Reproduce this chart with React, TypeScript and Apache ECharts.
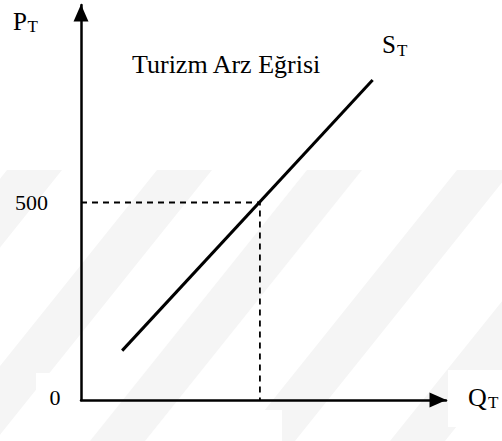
import React, { useEffect, useRef } from "react";
import * as echarts from "echarts";

// Data
const supplyQ = [2.3, 16.3];
const supplyP = [125, 810];
const equilibriumQ = 10;
const equilibriumP = 500;
const xTickValues = [10];
const yTickValues = [500];
const xMax = 20.4;
const yMax = 1000;

const FONT = "'Liberation Serif', 'Times New Roman', serif";

function txt(text: string, x: number, y: number, size: number, align = "left") {
  return {
    type: "text",
    x,
    y,
    z: 20,
    style: { text, font: `${size}px ${FONT}`, fill: "#000", align, verticalAlign: "middle" },
  };
}

function band(xb: number) {
  const w = 55;
  const shift = 217;
  return {
    type: "polygon",
    z: 0,
    silent: true,
    shape: { points: [[xb, 441], [xb + w, 441], [xb + w + shift, 170], [xb + shift, 170]] },
    style: { fill: "#f5f5f5" },
  };
}

export default function App() {
  const ref = useRef<HTMLDivElement>(null);
  useEffect(() => {
    document.body.style.margin = "0";
    const chart = echarts.init(ref.current!, null, { renderer: "svg" });
    const axisLine = () => ({
      show: true,
      onZero: false,
      symbol: ["none", "triangle"],
      symbolSize: [15, 17],
      symbolOffset: [0, -8],
      lineStyle: { color: "#000", width: 2.5 },
    });
    chart.setOption({
      animation: false,
      backgroundColor: "#fff",
      grid: { left: 81, right: 502 - 446, top: 5, bottom: 41, containLabel: false },
      xAxis: {
        type: "value",
        min: 0,
        max: xMax,
        axisLine: axisLine(),
        axisTick: { show: false },
        splitLine: { show: false },
        axisLabel: {
          customValues: xTickValues,
          margin: 16,
          fontSize: 22,
          fontFamily: FONT,
          color: "#000",
        },
      },
      yAxis: {
        type: "value",
        min: 0,
        max: yMax,
        axisLine: axisLine(),
        axisTick: { show: false },
        splitLine: { show: false },
        axisLabel: {
          customValues: yTickValues,
          margin: 33,
          fontSize: 22,
          fontFamily: FONT,
          color: "#000",
        },
      },
      series: [
        {
          type: "line",
          data: supplyQ.map((q, i) => [q, supplyP[i]]),
          symbol: "none",
          lineStyle: { color: "#000", width: 3 },
          z: 5,
        },
        {
          type: "line",
          data: [
            [0, equilibriumP],
            [equilibriumQ, equilibriumP],
            [equilibriumQ, 0],
          ],
          symbol: "none",
          lineStyle: { color: "#000", width: 1.8, type: [6, 5] },
          z: 4,
        },
      ],
      graphic: [
        band(-210),
        band(-60),
        band(90),
        band(240),
        band(390),
        { type: "rect", z: 1, shape: { x: 36, y: 373, width: 36, height: 68 }, style: { fill: "#fff" } },
        { type: "rect", z: 1, shape: { x: 232, y: 410, width: 50, height: 31 }, style: { fill: "#fff" } },
        { type: "rect", z: 1, shape: { x: 448, y: 370, width: 54, height: 57 }, style: { fill: "#fff" } },
        txt("P", 13, 21.5, 25),
        txt("T", 27.5, 26.2, 17),
        txt("S", 382, 44.5, 25),
        txt("T", 397, 50.2, 17),
        txt("Q", 468, 397, 26),
        txt("T", 488, 402.2, 17),
        txt("0", 55, 397.5, 22, "center"),
        txt("Turizm Arz Eğrisi", 132, 64, 26),
      ],
    });
    return () => chart.dispose();
  }, []);
  return <div ref={ref} style={{ width: 502, height: 441 }} />;
}
